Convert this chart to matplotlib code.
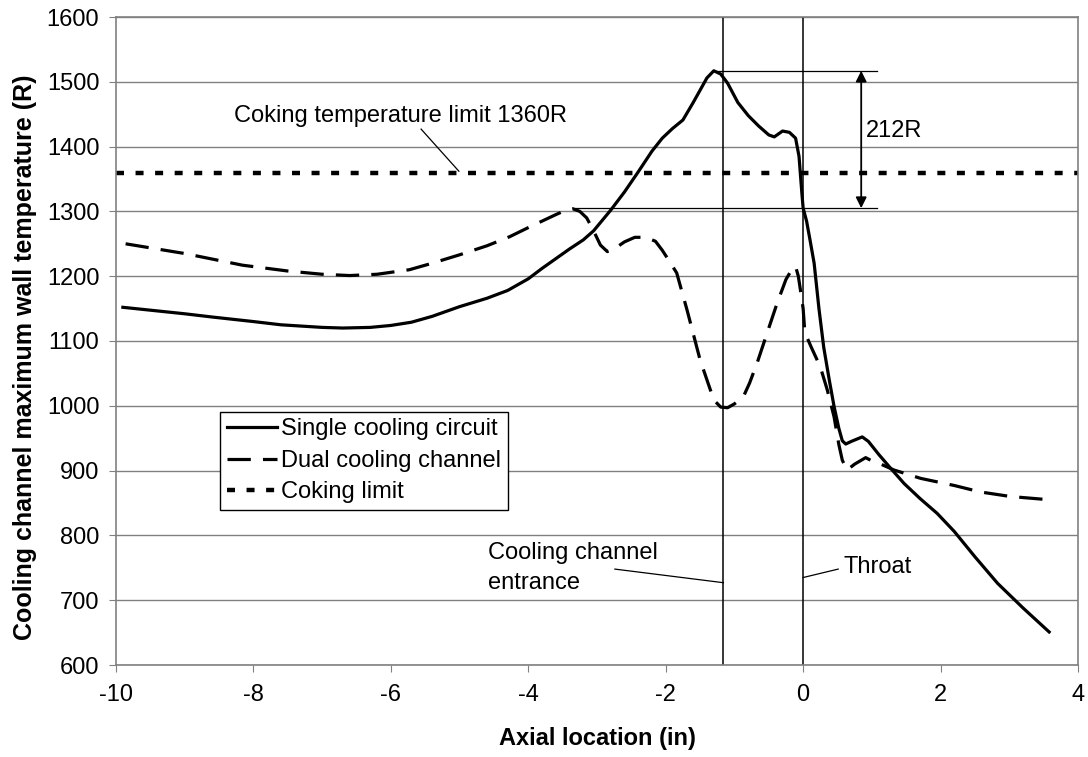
import numpy as np
import matplotlib
matplotlib.use('Agg')
import matplotlib.pyplot as plt

plt.rcParams['font.family'] = ['Liberation Sans', 'DejaVu Sans']
plt.rcParams['axes.unicode_minus'] = False

# single cooling circuit
x_single = [-9.9, -9.0, -8.6, -8.0, -7.6, -7.0, -6.7, -6.3, -6.0, -5.7, -5.4, -5.0,
            -4.6, -4.3, -4.0, -3.8, -3.4, -3.2, -3.05, -2.8, -2.6, -2.4, -2.2, -2.05,
            -1.9, -1.75, -1.6, -1.5, -1.4, -1.3, -1.2, -1.1, -0.95, -0.8, -0.65, -0.5,
            -0.42, -0.3, -0.2, -0.11, -0.06, -0.02, 0.0, 0.05, 0.1, 0.16, 0.23, 0.3,
            0.38, 0.45, 0.52, 0.57, 0.62, 0.7, 0.86, 0.95, 1.1, 1.27, 1.47, 1.7, 1.95,
            2.2, 2.5, 2.83, 3.2, 3.58]
y_single = [1152, 1142, 1137, 1130, 1125, 1121, 1120, 1121, 1124, 1129, 1138, 1153,
            1166, 1178, 1196, 1212, 1242, 1256, 1270, 1302, 1330, 1361, 1393, 1413,
            1428, 1441, 1468, 1487, 1506, 1517, 1512, 1498, 1468, 1448, 1432, 1418,
            1415, 1424, 1422, 1413, 1385, 1330, 1305, 1285, 1256, 1220, 1150, 1090,
            1040, 999, 965, 946, 941, 945, 952, 945, 925, 904, 880, 857, 834,
            806, 767, 726, 688, 651]

# dual cooling channel
x_dual = [-9.86, -9.0, -8.16, -7.5, -7.0, -6.6, -6.2, -5.73, -5.4, -5.0, -4.6, -4.27,
          -4.0, -3.8, -3.6, -3.45, -3.35, -3.25, -3.15, -3.05, -2.95, -2.85, -2.75,
          -2.6, -2.45, -2.3, -2.15, -2.05, -1.94, -1.84, -1.69, -1.5, -1.3, -1.2,
          -1.1, -1.0, -0.87, -0.78, -0.67, -0.5, -0.38, -0.25, -0.15, -0.11, -0.07,
          -0.04, 0.0, 0.02, 0.05, 0.12, 0.25, 0.35, 0.45, 0.52, 0.57, 0.64, 0.75,
          0.91, 1.0, 1.13, 1.32, 1.71, 2.2, 2.58, 3.02, 3.58]
y_dual = [1250, 1235, 1217, 1208, 1203, 1201, 1203, 1210, 1220, 1233, 1247, 1261,
          1275, 1285, 1295, 1302, 1304, 1300, 1290, 1270, 1248, 1238, 1242,
          1253, 1260, 1260, 1254, 1240, 1222, 1205, 1148, 1071, 1009, 998,
          997, 1003, 1014, 1035, 1066, 1120, 1158, 1195, 1213, 1215, 1200,
          1179, 1150, 1120, 1107, 1090, 1060, 1025, 983, 940, 916, 901, 910,
          920, 915, 910, 901, 888, 877, 867, 860, 855]

coking_limit = 1360
x_entrance = -1.16
x_throat = 0.0
peak_single = 1517
peak_dual = 1305

FS = 17

fig = plt.figure(figsize=(10.88, 7.57), dpi=100)
ax = fig.add_axes([116 / 1088, 92 / 757, 962 / 1088, 648 / 757])

ax.set_xlim(-10, 4)
ax.set_ylim(600, 1600)
ax.set_xticks(np.arange(-10, 5, 2))
ax.set_yticks(np.arange(600, 1700, 100))
ax.yaxis.grid(True, color='#808080', lw=1)
ax.set_axisbelow(True)
for s in ax.spines.values():
    s.set_color('#808080')
    s.set_linewidth(1.2)
ax.tick_params(direction='out', length=5, color='#808080', labelsize=FS, labelcolor='black')
ax.tick_params(axis='x', pad=8.5)
ax.tick_params(axis='y', pad=7)

ax.axvline(x_entrance, color='black', lw=1.1)
ax.axvline(x_throat, color='black', lw=1.1)

ax.plot(x_single, y_single, color='black', lw=2.3, label='Single cooling circuit',
        solid_joinstyle='round')
ax.plot(x_dual, y_dual, color='black', lw=2.3, dashes=(7.3, 3.8), label='Dual cooling channel')
ax.plot([-10, 4], [coking_limit, coking_limit], color='black', lw=3.2, dashes=(1.8, 2.6),
        label='Coking limit')

# 212R annotation
ax.plot([-1.3, 1.08], [peak_single, peak_single], color='black', lw=0.9)
ax.plot([-3.35, 1.08], [peak_dual, peak_dual], color='black', lw=0.9)
ax.annotate('', xy=(0.845, peak_single), xytext=(0.845, peak_dual),
            arrowprops=dict(arrowstyle='<|-|>', color='black', lw=1.3,
                            mutation_scale=16, shrinkA=0, shrinkB=0))
ax.text(0.92, 1415, '212R', fontsize=FS, va='baseline', ha='left')

# text labels with leader lines
ax.text(-8.29, 1438, 'Coking temperature limit 1360R', fontsize=FS, va='baseline', ha='left')
ax.plot([-5.56, -5.01], [1427, 1362], color='black', lw=0.9)

ax.text(-4.59, 763.6, 'Cooling channel', fontsize=FS, va='baseline', ha='left')
ax.text(-4.59, 717.3, 'entrance', fontsize=FS, va='baseline', ha='left')
ax.plot([-2.74, x_entrance], [748, 727], color='black', lw=0.9)

ax.text(0.59, 742, 'Throat', fontsize=FS, va='baseline', ha='left')
ax.plot([x_throat, 0.51], [735, 748], color='black', lw=0.9)

leg = ax.legend(loc='lower left', bbox_to_anchor=((220 - 116) / 962, (665 - 510) / 648),
                borderaxespad=0, fontsize=FS, frameon=True, fancybox=False,
                handlelength=2.12, handletextpad=0.2, labelspacing=0.4, borderpad=0.28)
leg.get_frame().set_edgecolor('black')
leg.get_frame().set_linewidth(1.0)
leg.get_frame().set_alpha(1)

ax.set_xlabel('Axial location (in)', fontsize=FS, fontweight='bold', va='center')
ax.xaxis.set_label_coords(0.5, -0.1127)
ax.set_ylabel('Cooling channel maximum wall temperature (R)', fontsize=18,
              fontweight='bold', va='center')
ax.yaxis.set_label_coords(-0.0947, 0.4745)

fig.savefig('out.png', dpi=100)
